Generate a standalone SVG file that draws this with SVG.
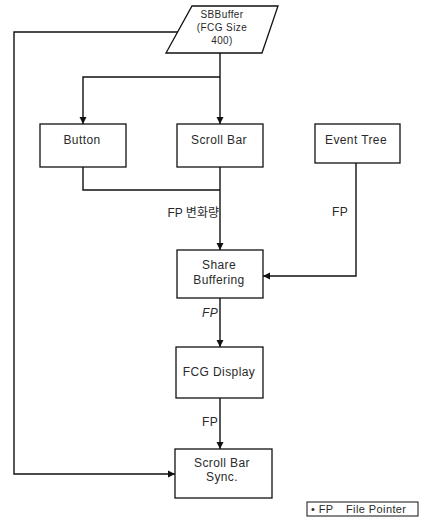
<svg xmlns="http://www.w3.org/2000/svg" width="427" height="518" viewBox="0 0 427 518">
<style>
.box{fill:#fff;stroke:#111;stroke-width:1.3}
.t{font-family:"Liberation Sans","Noto Sans CJK KR",sans-serif;font-size:12px;fill:#2a2a2a;text-anchor:middle;letter-spacing:0.4px}
.s{font-size:10px}
.c{fill:none;stroke:#111;stroke-width:1.4}
</style>
<defs>
<marker id="ah" viewBox="0 0 10 10" refX="10" refY="5" markerWidth="7" markerHeight="8" markerUnits="userSpaceOnUse" orient="auto">
<path d="M0,0 L10,5 L0,10 Z" fill="#111"/>
</marker>
</defs>
<g id="connectors">
<path class="c" d="M220,53 V124" marker-end="url(#ah)"/>
<path class="c" d="M220,77 H83 V124" marker-end="url(#ah)"/>
<path class="c" d="M180,32 H14 V474 H175" marker-end="url(#ah)"/>
<path class="c" d="M83,167 V190 H220"/>
<path class="c" d="M220,167 V250" marker-end="url(#ah)"/>
<path class="c" d="M356,163 V276 H263" marker-end="url(#ah)"/>
<path class="c" d="M220,298 V347" marker-end="url(#ah)"/>
<path class="c" d="M220,398 V449" marker-end="url(#ah)"/>
<text class="t" x="219" y="217" style="text-anchor:end;letter-spacing:0">FP 변화량</text>
<text class="t" x="340" y="216">FP</text>
<text class="t" x="210" y="317" style="font-style:italic">FP</text>
<text class="t" x="210" y="426">FP</text>
</g>
<g id="sbbuffer">
<path class="box" d="M192,6 H278 L262,53 H166 Z"/>
<text class="t s" x="222" y="18">SBBuffer</text>
<text class="t s" x="222" y="31">(FCG Size</text>
<text class="t s" x="222" y="44">400)</text>
</g>
<g id="button">
<rect class="box" x="40" y="124" width="86" height="43"/>
<text class="t" x="82" y="144">Button</text>
</g>
<g id="scrollbar">
<rect class="box" x="177" y="124" width="86" height="43"/>
<text class="t" x="219" y="144">Scroll Bar</text>
</g>
<g id="eventtree">
<rect class="box" x="315" y="124" width="85" height="39"/>
<text class="t" x="356" y="144">Event Tree</text>
</g>
<g id="sharebuffering">
<rect class="box" x="177" y="250" width="86" height="48"/>
<text class="t" x="219" y="269">Share</text>
<text class="t" x="219" y="284">Buffering</text>
</g>
<g id="fcgdisplay">
<rect class="box" x="176" y="347" width="87" height="51"/>
<text class="t" x="219" y="376">FCG Display</text>
</g>
<g id="scrollbarsync">
<rect class="box" x="175" y="449" width="97" height="49"/>
<text class="t" x="222" y="467">Scroll Bar</text>
<text class="t" x="222" y="481">Sync.</text>
</g>
<g id="legend">
<rect class="box" x="307" y="502" width="111" height="14" style="stroke-width:1"/>
<text class="t" x="311" y="513" style="text-anchor:start;font-size:11px">• FP</text>
<text class="t" x="346" y="513" style="text-anchor:start;font-size:11px">File Pointer</text>
</g>
</svg>
